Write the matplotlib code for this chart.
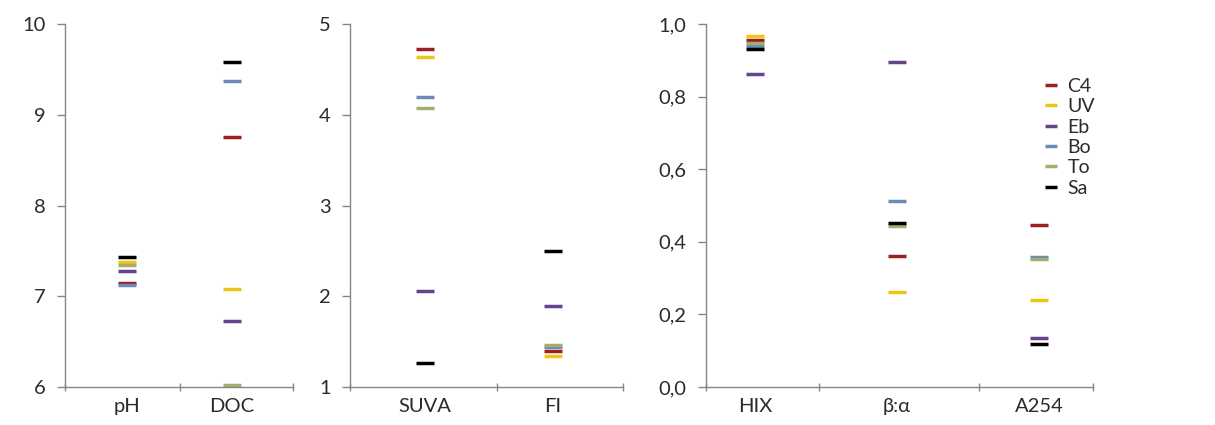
import matplotlib
matplotlib.use('Agg')
import matplotlib.pyplot as plt
from matplotlib.ticker import FuncFormatter

plt.rcParams['font.family'] = ['Lato', 'DejaVu Sans']

# categories per panel
cats1 = ['pH', 'DOC']
cats2 = ['SUVA', 'FI']
cats3 = ['HIX', 'β:α', 'A254']

# series values, in order pH, DOC, SUVA, FI, HIX, β:α, A254
series = ['C4', 'UV', 'Eb', 'Bo', 'To', 'Sa']
C4 = [7.15, 8.75, 4.72, 1.40, 0.955, 0.360, 0.445]
UV = [7.38, 7.08, 4.64, 1.34, 0.967, 0.262, 0.240]
Eb = [7.28, 6.73, 2.06, 1.89, 0.863, 0.896, 0.136]
Bo = [7.12, 9.37, 4.20, 1.44, 0.940, 0.512, 0.358]
To = [7.34, 6.02, 4.08, 1.46, 0.947, 0.443, 0.354]
Sa = [7.43, 9.58, 1.26, 2.50, 0.931, 0.453, 0.118]

colors = ['#9C1F24', '#F0C419', '#65438F', '#6A8BB8', '#A4AD6C', '#000000']
values = [C4, UV, Eb, Bo, To, Sa]

axis_gray = '#868686'
text_col = '#2b2b2b'

fig = plt.figure(figsize=(12.15, 4.25), dpi=100)
bottom, height = 0.0894, 0.854
ax1 = fig.add_axes([65 / 1215, bottom, 228 / 1215, height])
ax2 = fig.add_axes([350 / 1215, bottom, 273 / 1215, height])
ax3 = fig.add_axes([706 / 1215, bottom, 387 / 1215, height])

panels = [
    (ax1, cats1, 0, (6, 10), [6, 7, 8, 9, 10], (-0.59, 1.58), [-0.59, 0.5, 1.58]),
    (ax2, cats2, 2, (1, 5), [1, 2, 3, 4, 5], (-0.59, 1.55), [-0.59, 0.56, 1.55]),
    (ax3, cats3, 4, (0, 1), [0, 0.2, 0.4, 0.6, 0.8, 1.0], (-0.345, 2.38), [-0.345, 0.45, 1.58, 2.38]),
]

for ax, cats, start, ylim, yticks, xlim, bounds in panels:
    x = list(range(len(cats)))
    for name, vals, c in zip(series, values, colors):
        ax.plot(x, vals[start:start + len(cats)], linestyle='none', marker='_',
                markersize=13.5, markeredgewidth=2.5, color=c, label=name,
                clip_on=False)
    ax.set_ylim(*ylim)
    ax.set_yticks(yticks)
    ax.set_xlim(*xlim)
    ax.set_xticks(x)
    ax.set_xticklabels(cats, fontsize=14.5, color=text_col)
    ax.set_xticks(bounds, minor=True)
    ax.tick_params(axis='x', which='major', length=0, pad=8)
    ax.tick_params(axis='x', which='minor', length=6, width=1, color=axis_gray, direction='inout')
    ax.tick_params(axis='y', length=6, width=1, color=axis_gray, direction='out',
                   labelsize=14.5, labelcolor=text_col, pad=8)
    for s in ['top', 'right']:
        ax.spines[s].set_visible(False)
    for s in ['left', 'bottom']:
        ax.spines[s].set_color(axis_gray)
        ax.spines[s].set_linewidth(1)

ax3.yaxis.set_major_formatter(FuncFormatter(lambda v, p: ('%.1f' % v).replace('.', ',')))

handles, labels = ax1.get_legend_handles_labels()
leg = fig.legend(handles, labels, loc='upper left', bbox_to_anchor=(1042 / 1215, 1 - 78 / 425),
                 frameon=False, fontsize=14, handlelength=0.9, handletextpad=0.4,
                 labelspacing=0.17, markerscale=0.68, borderpad=0, borderaxespad=0)
for t in leg.get_texts():
    t.set_color(text_col)

fig.savefig('out.png', dpi=100)
